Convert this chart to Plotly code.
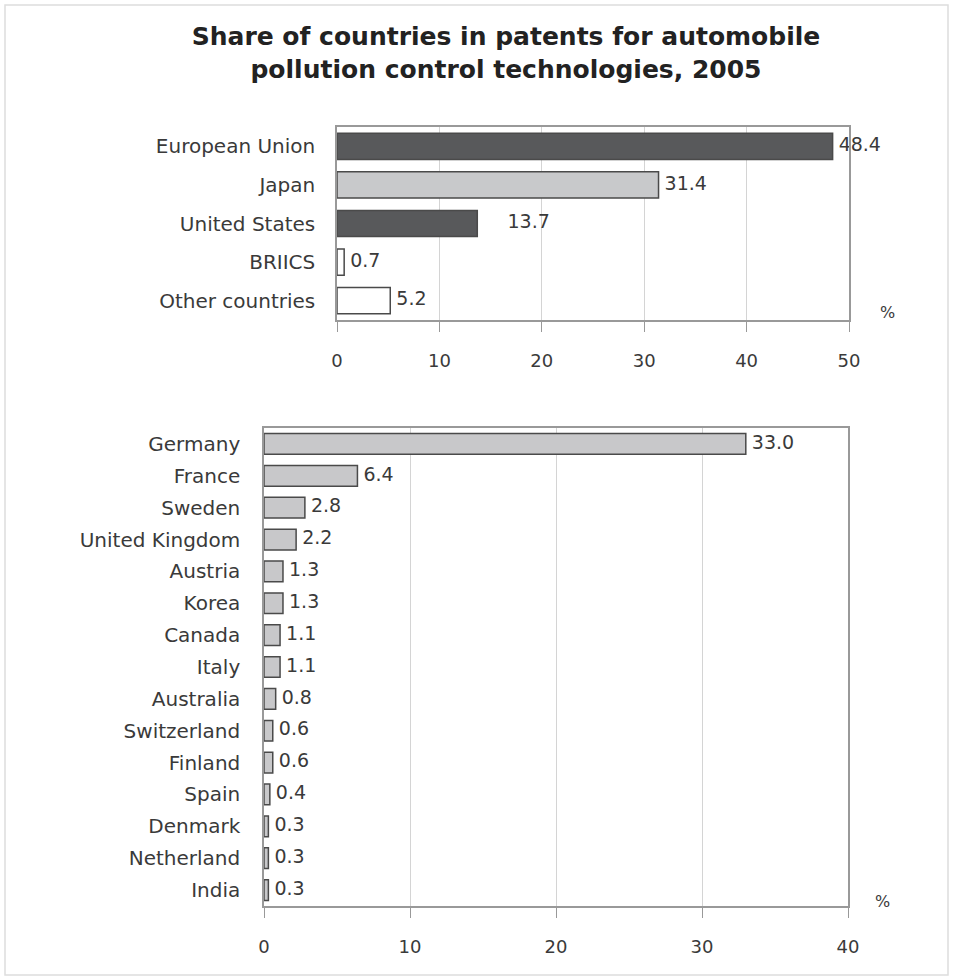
import plotly.graph_objects as go

# Top panel data
regions = ["European Union", "Japan", "United States", "BRIICS", "Other countries"]
region_vals = [48.4, 31.4, 13.7, 0.7, 5.2]
region_colors = ["#58595b", "#c8c9cb", "#58595b", "#ffffff", "#ffffff"]

# Bottom panel data
countries = ["Germany", "France", "Sweden", "United Kingdom", "Austria", "Korea", "Canada",
             "Italy", "Australia", "Switzerland", "Finland", "Spain", "Denmark", "Netherland", "India"]
country_vals = [33.0, 6.4, 2.8, 2.2, 1.3, 1.3, 1.1, 1.1, 0.8, 0.6, 0.6, 0.4, 0.3, 0.3, 0.3]

top_ticks = [0, 10, 20, 30, 40, 50]
bottom_ticks = [0, 10, 20, 30, 40]

W, H = 953, 980
FONT = "DejaVu Sans"
TXT = "#3a3a3a"

fig = go.Figure()

region_text = [("     " if r == "United States" else " ") + f"{v:.1f}"
               for r, v in zip(regions, region_vals)]

fig.add_trace(go.Bar(
    y=regions, x=region_vals, orientation="h", xaxis="x", yaxis="y",
    marker=dict(color=region_colors, line=dict(color="#4a4a4a", width=1.5)),
    width=0.68, hoverinfo="skip",
))
fig.add_trace(go.Scatter(
    y=regions, x=region_vals, mode="text", xaxis="x", yaxis="y",
    text=region_text, textposition="middle right",
    textfont=dict(family=FONT, size=19, color=TXT), cliponaxis=False,
))

fig.add_trace(go.Bar(
    y=countries, x=country_vals, orientation="h", xaxis="x2", yaxis="y2",
    marker=dict(color="#c8c8ca", line=dict(color="#4a4a4a", width=1.5)),
    width=0.65, hoverinfo="skip",
))
fig.add_trace(go.Scatter(
    y=countries, x=country_vals, mode="text", xaxis="x2", yaxis="y2",
    text=[" " + f"{v:.1f}" for v in country_vals], textposition="middle right",
    textfont=dict(family=FONT, size=19, color=TXT), cliponaxis=False,
))

def xdom(a, b):
    return [a / W, b / W]

def ydom(top, bottom):
    return [1 - bottom / H, 1 - top / H]

axis_common = dict(
    showline=True, linecolor="#999999", linewidth=1.5, mirror=True,
    automargin=False,
)

fig.update_layout(
    width=W, height=H,
    margin=dict(l=0, r=0, t=0, b=0, autoexpand=False),
    paper_bgcolor="white", plot_bgcolor="white",
    showlegend=False,
    title=dict(
        text="<b>Share of countries in patents for automobile<br>pollution control technologies, 2005</b>",
        x=506 / W, xanchor="center", y=1 - 45 / H, yanchor="middle",
        font=dict(family=FONT, size=25, color="#222222"),
    ),
    xaxis=dict(domain=xdom(337, 849), anchor="y", range=[0, 50], tickvals=top_ticks,
               showgrid=True, gridcolor="#d4d4d4", gridwidth=1, zeroline=False,
               ticks="outside", ticklen=10, tickcolor="#999999", ticklabelstandoff=14,
               tickfont=dict(family=FONT, size=18, color=TXT), **axis_common),
    yaxis=dict(domain=ydom(127, 320), anchor="x", range=[len(regions) - 0.5, -0.5],
               ticks="", ticklabelstandoff=16, showgrid=False,
               tickfont=dict(family=FONT, size=20, color=TXT), **axis_common),
    xaxis2=dict(domain=xdom(264, 848), anchor="y2", range=[0, 40], tickvals=bottom_ticks,
                showgrid=True, gridcolor="#d4d4d4", gridwidth=1, zeroline=False,
                ticks="outside", ticklen=10, tickcolor="#999999", ticklabelstandoff=14,
                tickfont=dict(family=FONT, size=18, color=TXT), **axis_common),
    yaxis2=dict(domain=ydom(428, 906), anchor="x2", range=[len(countries) - 0.5, -0.5],
                ticks="", ticklabelstandoff=18, showgrid=False,
                tickfont=dict(family=FONT, size=20, color=TXT), **axis_common),
)

fig.add_annotation(text="%", x=887 / W, y=1 - 312 / H, xref="paper", yref="paper",
                   xanchor="center", yanchor="middle",
                   showarrow=False, font=dict(family=FONT, size=16, color=TXT))
fig.add_annotation(text="%", x=882 / W, y=1 - 901 / H, xref="paper", yref="paper",
                   xanchor="center", yanchor="middle",
                   showarrow=False, font=dict(family=FONT, size=16, color=TXT))

fig.add_shape(type="rect", xref="paper", yref="paper",
              x0=5 / W, x1=948 / W, y0=1 - 975 / H, y1=1 - 5 / H,
              line=dict(color="#dddddd", width=1.5))

fig.write_html("out.html")
